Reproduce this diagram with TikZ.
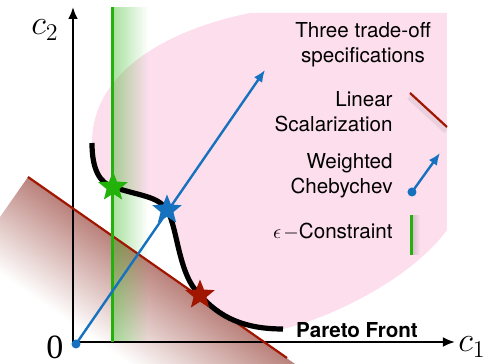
\documentclass[tikz,border=0pt]{standalone}
\usepackage{fontspec}
\usepackage{amsmath,amssymb}
\usepackage{tikz}
\usetikzlibrary{arrows.meta,shapes.geometric,fadings}

\newfontfamily\legendfont{TeX Gyre Heros}
\newfontfamily\axisfont{Liberation Serif}

\definecolor{paretopink}{RGB}{253,222,237}
\definecolor{lsred}{RGB}{160,22,0}
\definecolor{chebblue}{RGB}{22,114,190}
\definecolor{epsgreen}{RGB}{34,178,10}
\definecolor{shadebrown}{RGB}{140,45,35}

\tikzfading[name=fade right, left color=transparent!62, right color=transparent!100]
\tikzfading[name=fade down, top color=transparent!40, bottom color=transparent!100]
\tikzfading[name=fade soft, left color=transparent!70, right color=transparent!100]

\begin{document}
\begin{tikzpicture}[
x=0.5pt, y=-0.5pt,
axis/.style={{Latex[length=6pt,width=5pt]}-{Latex[length=6pt,width=5pt]},line width=1.3pt,line join=miter},
legend/.style={font=\legendfont\fontsize{10.3}{12.5}\selectfont,inner sep=0pt},
axislabel/.style={font=\fontsize{17}{17}\selectfont,inner sep=0pt},
front/.style={line width=2.6pt},
cheb/.style={chebblue,line width=1.2pt,-{Latex[length=6pt,width=5pt]}},
dot/.style={circle,fill=chebblue,inner sep=0pt,minimum size=4.5pt},
spec/.style={star,star points=5,star point ratio=2.3,minimum size=15.5pt,inner sep=0pt} ]

\useasboundingbox (0,0) rectangle (489,364);

\coordinate (o) at (73,342);
\coordinate (ytip) at (73,7);
\coordinate (xtip) at (455,342);

\coordinate (fstart) at (92,143);
\coordinate (gpt) at (113,187);
\coordinate (bpt) at (167,210);
\coordinate (rpt) at (200,295);
\coordinate (fend) at (283,329);

\coordinate (lsstart) at (28,177);
\coordinate (lsend) at (287,358);
\coordinate (epstop) at (113,7);
\coordinate (epsbot) at (113,342);
\coordinate (chebtop) at (265,70);

\fill[paretopink] (fstart) .. controls (92,170) and (100,183) .. (gpt)
  .. controls (140,196) and (158,196) .. (bpt)
  .. controls (178,228) and (178,275) .. (rpt)
  .. controls (220,318) and (245,329) .. (fend)
  .. controls (330,318) and (410,280) .. (447,230) -- (447,13) -- (250,13)
  .. controls (175,28) and (92,68) .. (fstart) -- cycle;

\begin{scope}
\clip (0,0) rectangle (489,364);
\begin{scope}[transform canvas={shift={(lsstart)},rotate=-35}]
\fill[shadebrown, path fading=fade down] (0,0) rectangle (330,95);
\end{scope}
\end{scope}

\fill[epsgreen, path fading=fade right] (114,7) rectangle (148,342);

\draw[axis] (ytip) -- (o) -- (xtip);

\node[axislabel] (ylabel) at (45,30) {$c_2$};
\node[axislabel] (xlabel) at (472,347) {$c_1$};
\node[axislabel,font=\axisfont\fontsize{17}{17}\selectfont] (zero) at (55,347) {0};

\draw[lsred, line width=1.1pt] (lsstart) -- (lsend);

\draw[epsgreen, line width=1.5pt] (epstop) -- (epsbot);

\draw[front] (fstart) .. controls (92,170) and (100,183) .. (gpt)
  .. controls (140,196) and (158,196) .. (bpt)
  .. controls (178,228) and (178,275) .. (rpt)
  .. controls (220,318) and (245,329) .. (fend);

\node[dot] (odot) at (76,344) {};
\draw[cheb] (odot.center) -- (chebtop);

\node[spec,fill=epsgreen] (gstar) at (gpt) {};
\node[spec,fill=chebblue] (bstar) at (bpt) {};
\node[spec,fill=lsred] (rstar) at (rpt) {};

\node[legend,align=center] (title) at (363,45) {Three trade-off\\specifications};

\node[legend,align=right,anchor=east] (lslabel) at (393,112) {Linear\\Scalarization};

\node[legend,align=right,anchor=east] (cheblabel) at (393,176) {Weighted\\Chebychev};

\node[legend,anchor=east] (epslabel) at (393,232) {$\epsilon\mkern2mu{-}$Constraint};

\node[legend,font=\legendfont\bfseries\fontsize{10.3}{12.5}\selectfont] (frontlabel) at (357,330) {Pareto Front};

\coordinate (lsa) at (410,93);
\coordinate (lsb) at (447,127);
\draw[gray, opacity=0.15, line width=2.6pt] ([shift={(-1,4)}]lsa) -- ([shift={(-1,4)}]lsb);
\draw[lsred, line width=1.1pt] (lsa) -- (lsb);

\node[dot] (chebdot) at (412,192) {};
\coordinate (chebtip) at (440,153);
\draw[cheb] (chebdot.center) -- (chebtip);

\coordinate (epsa) at (412,215);
\coordinate (epsb) at (412,255);
\fill[gray, path fading=fade soft] (413,215) rectangle (420,255);
\draw[epsgreen, line width=1.5pt] (epsa) -- (epsb);

\end{tikzpicture}
\end{document}
